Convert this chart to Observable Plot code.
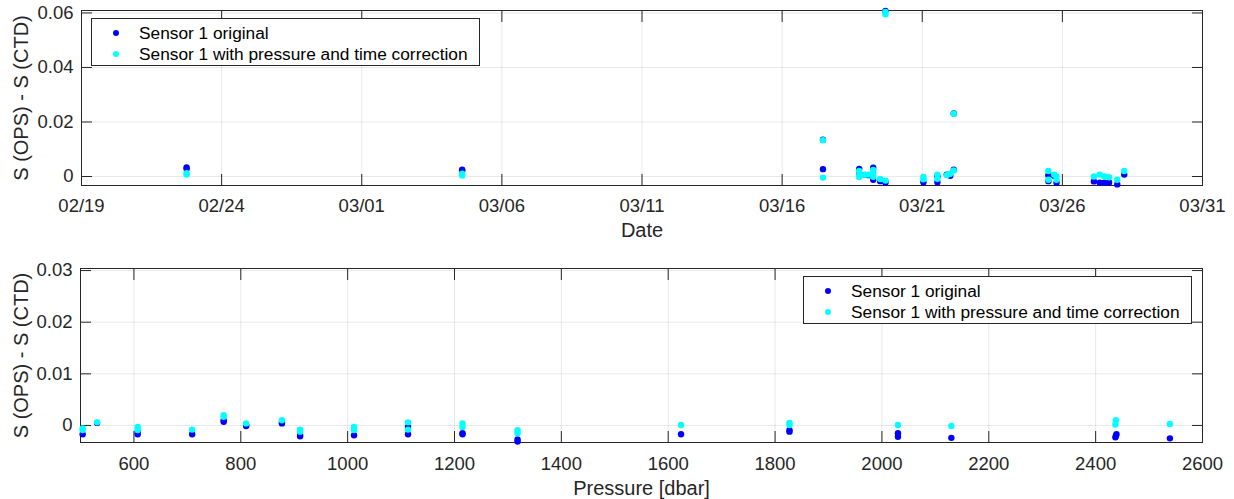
<!DOCTYPE html>
<html>
<head>
<meta charset="utf-8">
<script src="https://cdn.jsdelivr.net/npm/d3@7"></script>
<script src="https://cdn.jsdelivr.net/npm/@observablehq/plot@0.6"></script>
<style>
  html, body { margin: 0; padding: 0; background: #ffffff; }
  #wrap { position: relative; width: 1234px; height: 499px; font-family: "Liberation Sans", Arial, Helvetica, sans-serif; }
  #wrap svg { display: block; }
  .legend { position: absolute; box-sizing: border-box; border: 1px solid #262626; background: #ffffff; font-size: 17.3px; color: #000; }
  .legend .row { position: absolute; left: 0; height: 20px; line-height: 20px; white-space: nowrap; }
  .legend .mk { position: absolute; width: 6px; height: 6px; border-radius: 50%; top: 7px; }
  .legend .tx { position: absolute; top: 0; }
</style>
</head>
<body>
<div id="wrap"></div>
<script>
// ---------- Data ----------
const seriesNames = ["Sensor 1 original", "Sensor 1 with pressure and time correction"];
const seriesColors = ["#0000ff", "#00ffff"];

// Top panel: date vs salinity difference
const topOrigDates = [
  "2023-02-22T18:00", "2023-02-22T18:00",
  "2023-03-04T14:00", "2023-03-04T14:00",
  "2023-03-17T11:00", "2023-03-17T11:00",
  "2023-03-18T18:00", "2023-03-18T18:00",
  "2023-03-18T23:00", "2023-03-19T02:00",
  "2023-03-19T06:00", "2023-03-19T06:00",
  "2023-03-19T12:00",
  "2023-03-19T16:30", "2023-03-19T16:30",
  "2023-03-21T01:00",
  "2023-03-21T13:00", "2023-03-21T13:00",
  "2023-03-21T21:00", "2023-03-22T00:00",
  "2023-03-22T03:00", "2023-03-22T03:00",
  "2023-03-25T12:00", "2023-03-25T12:00",
  "2023-03-25T17:00", "2023-03-25T19:00",
  "2023-03-27T03:00",
  "2023-03-27T08:00", "2023-03-27T12:00", "2023-03-27T16:00",
  "2023-03-27T23:00", "2023-03-28T05:00"
];
const topOrigValues = [
  0.0033, 0.0028,
  0.0025, 0.0022,
  0.0135, 0.0027,
  0.0028, 0.0008,
  0.0006, 0.0005,
  0.0032, -0.0012,
  -0.0017,
  -0.0022, 0.0607,
  -0.0021,
  -0.0021, 0.0000,
  0.0007, 0.0003,
  0.0025, 0.0231,
  -0.0017, 0.0005,
  0.0003, -0.0023,
  -0.0018,
  -0.0023, -0.0023, -0.0022,
  -0.0029, 0.0007
];
const topCorrDates = [
  "2023-02-22T18:00", "2023-02-22T18:00",
  "2023-03-04T14:00", "2023-03-04T14:00",
  "2023-03-17T11:00", "2023-03-17T11:00",
  "2023-03-18T18:00", "2023-03-18T18:00", "2023-03-18T18:00",
  "2023-03-18T23:00", "2023-03-19T02:00",
  "2023-03-19T06:00", "2023-03-19T06:00", "2023-03-19T06:00",
  "2023-03-19T12:00",
  "2023-03-19T16:30", "2023-03-19T16:30", "2023-03-19T16:30",
  "2023-03-21T01:00", "2023-03-21T01:00",
  "2023-03-21T13:00", "2023-03-21T13:00",
  "2023-03-21T21:00", "2023-03-22T00:00",
  "2023-03-22T03:00", "2023-03-22T03:00",
  "2023-03-25T12:00", "2023-03-25T12:00",
  "2023-03-25T17:00",
  "2023-03-25T19:00", "2023-03-25T19:00",
  "2023-03-27T03:00",
  "2023-03-27T08:00", "2023-03-27T12:00", "2023-03-27T16:00",
  "2023-03-27T23:00", "2023-03-28T05:00"
];
const topCorrValues = [
  0.0007, 0.0012,
  0.0004, 0.0010,
  0.0133, -0.0004,
  0.0020, 0.0005, -0.0002,
  0.0006, 0.0007,
  0.0024, 0.0009, -0.0001,
  -0.0009,
  -0.0015, 0.0604, 0.0595,
  -0.0002, -0.0010,
  0.0007, -0.0008,
  0.0005, 0.0010,
  0.0022, 0.0230,
  0.0020, -0.0012,
  0.0007,
  0.0000, -0.0012,
  0.0000,
  0.0007, 0.0000, -0.0003,
  -0.0012, 0.0020
];

// Bottom panel: pressure vs salinity difference
const botOrigPressure = [504, 531, 607, 607, 709, 768, 768, 810, 810, 877, 877, 911, 911, 1012, 1113, 1113, 1215, 1215, 1318, 1318, 1624, 1827, 1827, 2030, 2030, 2130, 2437, 2438, 2439, 2539];
const botOrigValues  = [-0.0017, 0.0005, -0.0017, -0.0012, -0.0017, 0.0007, 0.0010, -0.0001, 0.0001, 0.0004, 0.0006, -0.0021, -0.0018, -0.0019, -0.0003, -0.0017, -0.0015, -0.0017, -0.0027, -0.0031, -0.0017, -0.0009, -0.0012, -0.0015, -0.0022, -0.0024, -0.0023, -0.0020, -0.0017, -0.0025];
const botCorrPressure = [504, 504, 531, 607, 607, 709, 768, 768, 810, 877, 911, 911, 1012, 1012, 1113, 1113, 1215, 1215, 1318, 1318, 1624, 1827, 1827, 2030, 2130, 2437, 2438, 2539];
const botCorrValues  = [-0.0006, -0.0009, 0.0006, -0.0003, -0.0009, -0.0008, 0.0020, 0.0017, 0.0004, 0.0010, -0.0008, -0.0012, -0.0003, -0.0009, 0.0006, -0.0008, 0.0004, -0.0003, -0.0009, -0.0015, 0.0001, 0.0005, 0.0001, 0.0001, -0.0001, 0.0002, 0.0010, 0.0003];

// Ticks
const dateTickLabels = ["02/19", "02/24", "03/01", "03/06", "03/11", "03/16", "03/21", "03/26", "03/31"];
const topYTicks = [0, 0.02, 0.04, 0.06];
const botXTicks = [600, 800, 1000, 1200, 1400, 1600, 1800, 2000, 2200, 2400, 2600];
const botYTicks = [0, 0.01, 0.02, 0.03];
const yLabel = "S (OPS) - S (CTD)";
const topXLabel = "Date";
const botXLabel = "Pressure [dbar]";

// ---------- Build ----------
const parseDate = d3.utcParse("%Y-%m-%dT%H:%M");
const dateTicks = dateTickLabels.map(s => d3.utcParse("%Y/%m/%d")("2023/" + s));
const topOrig = topOrigDates.map((d, i) => ({date: parseDate(d), v: topOrigValues[i]}));
const topCorr = topCorrDates.map((d, i) => ({date: parseDate(d), v: topCorrValues[i]}));
const botOrig = botOrigPressure.map((p, i) => ({p, v: botOrigValues[i]}));
const botCorr = botCorrPressure.map((p, i) => ({p, v: botCorrValues[i]}));

const fontFamily = '"Liberation Sans", Arial, Helvetica, sans-serif';
const yFmt = d => d === 0 ? "0" : d3.format(".2f")(d);
const tickColor = "#262626";
const gridStyle = {stroke: "#000", strokeOpacity: 0.09};
const blank = () => "";

function inwardTicks(kind, ticks) {
  const A = kind === "x" ? Plot.axisX : Plot.axisY;
  const anchors = kind === "x" ? ["bottom", "top"] : ["left", "right"];
  return anchors.map(a => A(ticks, {anchor: a, tickSize: -11, fill: "none", stroke: tickColor, label: null}));
}

function axisMarks(xTicks, xFmt, xPad, xLabel, xOff, yTicks, yOff) {
  return [
    Plot.axisX(xTicks, {anchor: "bottom", tickSize: 0, tickPadding: xPad, tickFormat: xFmt, label: null, fontSize: "18.5px"}),
    Plot.axisY(yTicks, {anchor: "left", tickSize: 0, tickPadding: 8, tickFormat: yFmt, label: null, fontSize: "18.5px"}),
    Plot.axisX(xTicks, {anchor: "bottom", tickSize: 0, tickFormat: blank, label: xLabel, labelAnchor: "center",
      labelOffset: xOff, labelArrow: "none", fontSize: "20px"}),
    Plot.axisY(yTicks, {anchor: "left", tickSize: 0, tickFormat: blank, label: yLabel, labelAnchor: "center",
      labelOffset: yOff, labelArrow: "none", fontSize: "20px"}),
    ...inwardTicks("x", xTicks),
    ...inwardTicks("y", yTicks)
  ];
}

const topPlot = Plot.plot({
  width: 1234, height: 249,
  marginLeft: 81, marginRight: 32, marginTop: 10, marginBottom: 64,
  style: {fontFamily, fontSize: "18.5px", color: tickColor, background: "#fff"},
  x: {type: "utc", domain: [dateTicks[0], dateTicks[dateTicks.length - 1]]},
  y: {domain: [-0.0033, 0.0609]},
  marks: [
    Plot.gridX(dateTicks, gridStyle),
    Plot.gridY(topYTicks, gridStyle),
    ...axisMarks(dateTicks, d3.utcFormat("%m/%d"), 13, topXLabel, 51, topYTicks, 68),
    Plot.frame({stroke: tickColor}),
    Plot.dot(topOrig, {x: "date", y: "v", r: 3.2, fill: seriesColors[0]}),
    Plot.dot(topCorr, {x: "date", y: "v", r: 3.2, fill: seriesColors[1]})
  ]
});

const botPlot = Plot.plot({
  width: 1234, height: 250,
  marginLeft: 80, marginRight: 32, marginTop: 19, marginBottom: 57,
  style: {fontFamily, fontSize: "18.5px", color: tickColor, background: "#fff"},
  x: {domain: [500, 2600]},
  y: {domain: [-0.0033, 0.0304]},
  marks: [
    Plot.gridX(botXTicks, gridStyle),
    Plot.gridY(botYTicks, gridStyle),
    ...axisMarks(botXTicks, d => String(d), 14, botXLabel, 52, botYTicks, 67),
    Plot.frame({stroke: tickColor}),
    Plot.dot(botOrig, {x: "p", y: "v", r: 3.2, fill: seriesColors[0]}),
    Plot.dot(botCorr, {x: "p", y: "v", r: 3.2, fill: seriesColors[1]})
  ]
});

const wrap = document.getElementById("wrap");
wrap.appendChild(topPlot);
wrap.appendChild(botPlot);

function addLegend(left, top) {
  const box = document.createElement("div");
  box.className = "legend";
  Object.assign(box.style, {left: left + "px", top: top + "px", width: "389px", height: "48px"});
  seriesNames.forEach((name, i) => {
    const row = document.createElement("div");
    row.className = "row";
    row.style.top = (4 + i * 21) + "px";
    const mk = document.createElement("span");
    mk.className = "mk";
    mk.style.left = "21px";
    mk.style.background = seriesColors[i];
    const tx = document.createElement("span");
    tx.className = "tx";
    tx.style.left = "47px";
    tx.textContent = name;
    row.appendChild(mk); row.appendChild(tx);
    box.appendChild(row);
  });
  wrap.appendChild(box);
}
addLegend(91, 18);
addLegend(803, 276);
</script>
</body>
</html>
